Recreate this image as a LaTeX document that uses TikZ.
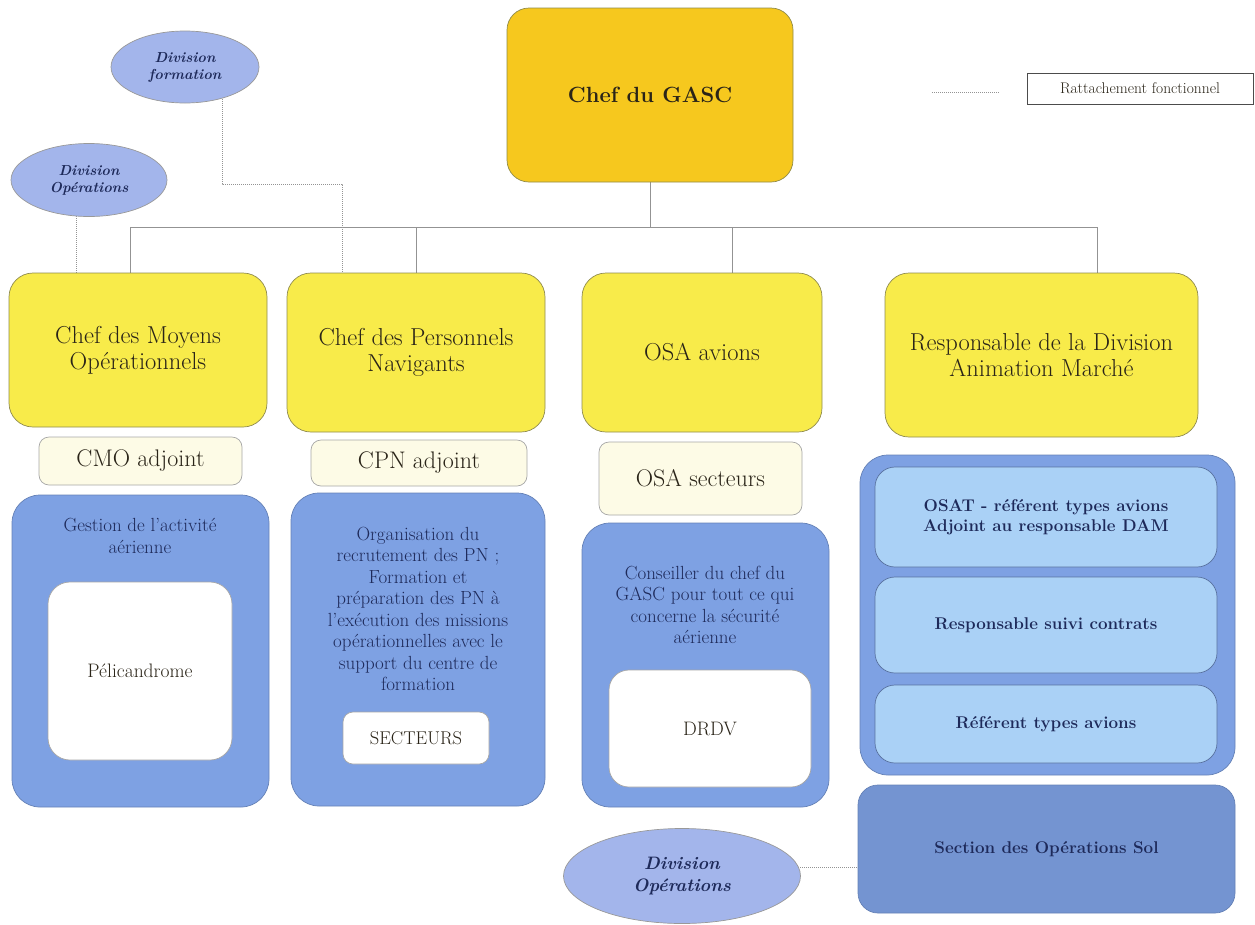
\documentclass[tikz,border=0pt]{standalone}
\usetikzlibrary{positioning, shapes.geometric, backgrounds}
\definecolor{gold}{HTML}{F6C81E}
\definecolor{lemon}{HTML}{F8EB4A}
\definecolor{cream}{HTML}{FDFBE6}
\definecolor{cornflower}{HTML}{7EA1E3}
\definecolor{sky}{HTML}{AAD1F6}
\definecolor{periwinkle}{HTML}{A3B5EB}
\definecolor{navy}{HTML}{1E2A5A}
\definecolor{ink}{HTML}{2A2418}
\definecolor{wire}{HTML}{939393}

\begin{document}
\begin{tikzpicture}[x=1pt, y=-1pt,
    every node/.style={inner sep=2pt, align=center, text=ink},
    chief/.style={rectangle, rounded corners=22pt, fill=gold, draw=olive!50!gray,
                  line width=0.7pt, font=\fontsize{22}{26}\selectfont\bfseries},
    head/.style={rectangle, rounded corners=24pt, fill=lemon, draw=olive!45!gray,
                 line width=0.7pt, font=\fontsize{24.5}{26}\selectfont},
    deputy/.style={rectangle, rounded corners=10pt, fill=cream, draw=gray!70,
                   line width=0.7pt, font=\fontsize{24}{26}\selectfont},
    panel/.style={rectangle, rounded corners=28pt, fill=cornflower,
                  draw=cornflower!80!black, line width=0.7pt},
    paneltext/.style={text=navy, font=\fontsize{19}{21.5}\selectfont},
    unit/.style={rectangle, rounded corners=22pt, fill=white, draw=gray!70,
                 line width=0.7pt, font=\fontsize{19.5}{22}\selectfont},
    cell/.style={rectangle, rounded corners=20pt, fill=sky, draw=cornflower!70!black,
                 line width=0.7pt, text=navy, font=\fontsize{17}{20}\selectfont\bfseries},
    division/.style={ellipse, fill=periwinkle, draw=gray!80, line width=0.7pt,
                     text=navy, inner sep=0pt},
    legendbox/.style={rectangle, draw=gray!60!black, line width=0.8pt, fill=white,
                      font=\fontsize{15.5}{17}\selectfont},
    link/.style={draw=wire, line width=0.9pt},
    dotlink/.style={draw=wire, densely dotted, line width=1pt}
  ]
    \useasboundingbox (0,0) rectangle (1255,924);

    % top level
    \node[chief, minimum width=286pt, minimum height=174pt] (gasc) at (650,95) {Chef du GASC};
    \node[legendbox, minimum width=226pt, minimum height=31pt] (legend) at (1140,88.5) {Rattachement fonctionnel};
    \coordinate (legA) at (932,92);

    % divisions
    \node[division, minimum width=148pt, minimum height=72pt,
          font=\fontsize{14.5}{17}\selectfont\bfseries\itshape] (divform) at (185,67) {Division\\formation};
    \node[division, minimum width=156pt, minimum height=73pt,
          font=\fontsize{14.5}{17}\selectfont\bfseries\itshape] (divops) at (89,180) {Division\\Opérations};
    \node[division, minimum width=237pt, minimum height=95pt,
          font=\fontsize{18}{22}\selectfont\bfseries\itshape] (divsol) at (682,876) {Division\\Opérations};

    % heads
    \node[head, minimum width=258pt, minimum height=154pt] (cmo) at (138,350) {Chef des Moyens\\Opérationnels};
    \node[head, minimum width=258pt, minimum height=159pt] (cpn) at (416,352.5) {Chef des Personnels\\Navigants};
    \node[head, minimum width=240pt, minimum height=159pt] (osa) at (702,352.5) {OSA avions};
    \node[head, minimum width=313pt, minimum height=164pt] (dam) at (1041.5,355) {Responsable de la Division\\Animation Marché};

    % deputies
    \node[deputy, minimum width=203pt, minimum height=48pt] (cmoadj) at (140.5,461) {CMO adjoint};
    \node[deputy, minimum width=216pt, minimum height=46pt] (cpnadj) at (419,463) {CPN adjoint};
    \node[deputy, minimum width=203pt, minimum height=73pt] (osasec) at (700.5,478.5) {OSA secteurs};

    % panels
    \node[panel, minimum width=257pt, minimum height=312pt] (cmopanel) at (140.5,651) {};
    \node[paneltext] (cmotxt) at (140,536) {Gestion de l'activité\\aérienne};
    \node[unit, minimum width=184pt, minimum height=178pt] (peli) at (140,671) {Pélicandrome};

    \node[panel, minimum width=254pt, minimum height=313pt] (cpnpanel) at (418,649.5) {};
    \node[paneltext] (cpntxt) at (418,609) {Organisation du\\recrutement des PN ;\\Formation et\\préparation des PN à\\l’exécution des missions\\opérationnelles avec le\\support du centre de\\formation};
    \node[unit, rounded corners=10pt, minimum width=146pt, minimum height=52pt,
          font=\fontsize{18.5}{20}\selectfont] (secteurs) at (416,738) {SECTEURS};

    \node[panel, minimum width=247pt, minimum height=284pt] (osapanel) at (705.5,665) {};
    \node[paneltext] (osatxt) at (705,605) {Conseiller du chef du\\GASC pour tout ce qui\\concerne la sécurité\\aérienne};
    \node[unit, rounded corners=20pt, minimum width=202pt, minimum height=117pt] (drdv) at (710,728.5) {DRDV};

    \node[panel, minimum width=375pt, minimum height=320pt] (dampanel) at (1047.5,615) {};
    \node[cell, minimum width=342pt, minimum height=100pt] (osat) at (1046,517) {OSAT - référent types avions\\Adjoint au responsable DAM};
    \node[cell, minimum width=342pt, minimum height=96pt] (suivi) at (1046,625) {Responsable suivi contrats};
    \node[cell, minimum width=342pt, minimum height=78pt] (types) at (1046,724) {Référent types avions};
    \node[panel, rounded corners=20pt, minimum width=377pt, minimum height=128pt,
          fill=cornflower!92!black, text=navy,
          font=\fontsize{17}{20}\selectfont\bfseries] (sol) at (1046.5,849) {Section des Opérations Sol};

    % links
    \coordinate (bus) at (650,227);
    \coordinate (j1) at (130,227);
    \coordinate (j2) at (416,227);
    \coordinate (j3) at (732,227);
    \coordinate (j4) at (1097,227);
    \coordinate (f1) at (222,184);
    \coordinate (f2) at (342,184);
    \coordinate (o1) at (76,273);
    \coordinate (s1) at (800,867);
    \begin{scope}[on background layer]
      \draw[link] (gasc.south) -- (bus);
      \draw[link] (j1) -- (j4);
      \draw[link] (j1) -- (j1 |- cmo.north);
      \draw[link] (j2) -- (j2 |- cpn.north);
      \draw[link] (j3) -- (j3 |- osa.north);
      \draw[link] (j4) -- (j4 |- dam.north);
      \draw[dotlink] (divform.center -| f1) -- (f1) -- (f2) -- (f2 |- cpn.north);
      \draw[dotlink] (divops.center -| o1) -- (o1);
      \draw[dotlink] (divsol.center |- s1) -- (sol.west |- s1);
    \end{scope}
    \draw[dotlink] (legA) -- +(68,0);
\end{tikzpicture}
\end{document}
